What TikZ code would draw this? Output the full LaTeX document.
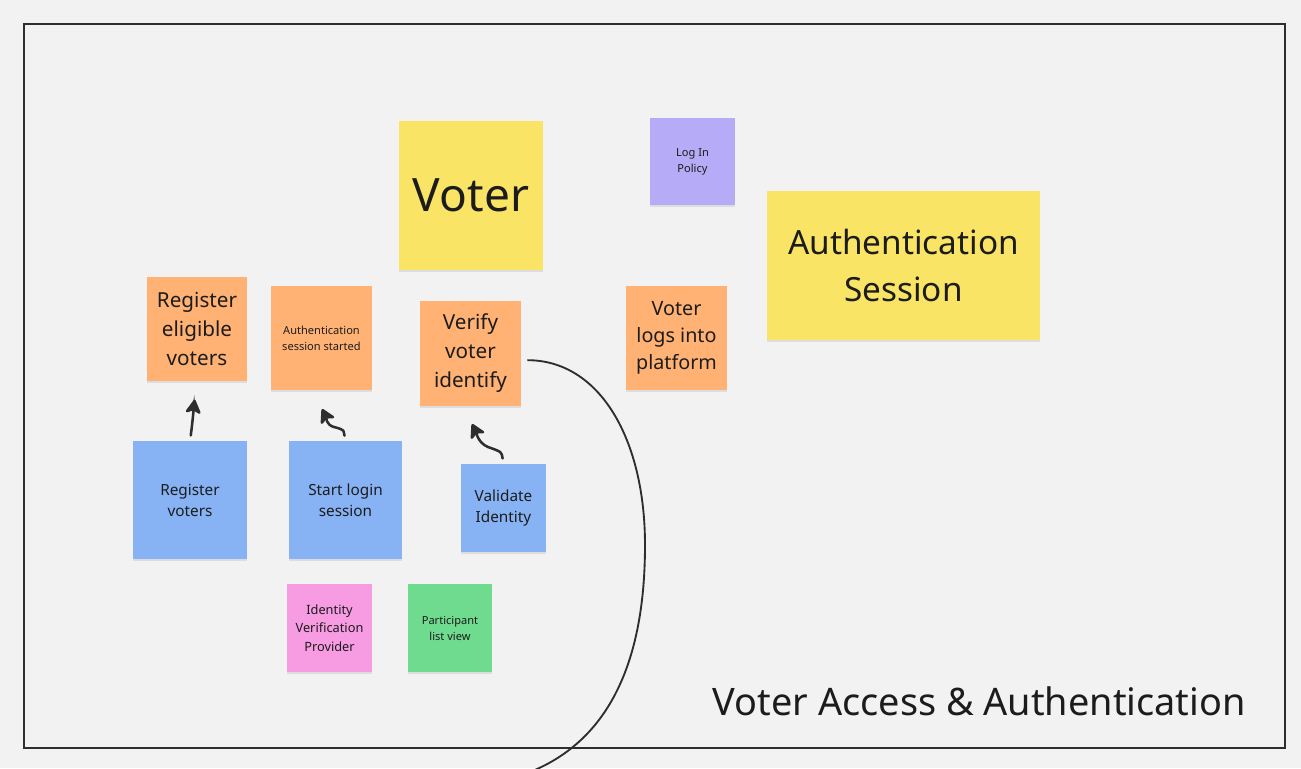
\documentclass[tikz,border=0pt]{standalone}
\usepackage{fontspec}
\setmainfont{Noto Sans}
\usetikzlibrary{arrows.meta,shadows}

\definecolor{board}{HTML}{F2F2F2}
\definecolor{ink}{HTML}{1C1C1C}
\definecolor{pen}{HTML}{2E2E2E}
\definecolor{yellownote}{HTML}{FAE466}
\definecolor{orangenote}{HTML}{FFB273}
\definecolor{bluenote}{HTML}{87B3F5}
\definecolor{purplenote}{HTML}{B5ABF7}
\definecolor{pinknote}{HTML}{F79BE3}
\definecolor{greennote}{HTML}{6FDB8E}

\begin{document}
\begin{tikzpicture}[x=0.75pt,y=-0.75pt,
  note/.style={inner sep=0pt, align=center, text=ink,
    drop shadow={shadow xshift=0pt, shadow yshift=-1.5pt, opacity=0.18}},
  size/.style 2 args={minimum width=#1*0.75pt, minimum height=#2*0.75pt},
  bigtxt/.style={font=\fontsize{15.5}{21.75}\selectfont},
  midtxt/.style={font=\fontsize{11.5}{15.75}\selectfont},
  smalltxt/.style={font=\fontsize{8.3}{12}\selectfont},
  link/.style={draw=pen, line width=1.9pt, line cap=round,
    -{Stealth[length=12pt,width=13.5pt,inset=3pt,round]}},
  curve/.style={draw=pen, line width=1.4pt}]

\fill[board] (0,0) rectangle (1301,768);
\useasboundingbox (0,0) rectangle (1301,768);
\clip (0,0) rectangle (1301,768);
\draw[pen, line width=1.5pt] (24,24) rectangle (1285,748);

% headers
\node[note, fill=yellownote, size={144}{149}, font=\fontsize{34.5}{40}\selectfont] (voter) at (471,195.5) {Voter};
\node[note, fill=yellownote, size={273}{149}, font=\fontsize{25}{35}\selectfont] (authsess) at (903.5,265.5) {Authentication\\Session};
\node[note, fill=purplenote, size={85}{87}, smalltxt] (policy) at (692.5,161.5) {Log In\\Policy};

% events
\node[note, fill=orangenote, size={100}{104}, bigtxt] (regel) at (197,329) {Register\\eligible\\voters};
\node[note, fill=orangenote, size={101}{104}, smalltxt] (started) at (321.5,338) {Authentication\\session started};
\node[note, fill=orangenote, size={101}{105}, bigtxt] (verify) at (470.5,353.5) {Verify\\voter\\identify};
\node[note, fill=orangenote, size={101}{104}, font=\fontsize{14.8}{20.25}\selectfont] (logs) at (676.5,338) {Voter\\logs into\\platform};

% commands
\node[note, fill=bluenote, size={114}{118}, midtxt] (regv) at (190,500) {Register\\voters};
\node[note, fill=bluenote, size={113}{118}, midtxt] (startlogin) at (345.5,500) {Start login\\session};
\node[note, fill=bluenote, size={85}{88}, midtxt] (validate) at (503.5,508) {Validate\\Identity};

% others
\node[note, fill=pinknote, size={85}{88}, font=\fontsize{9.6}{14}\selectfont] (idp) at (329.5,628) {Identity\\Verification\\Provider};
\node[note, fill=greennote, size={84}{88}, smalltxt] (plist) at (450,628) {Participant\\list view};

\node[inner sep=0pt, anchor=base east, text=ink, font=\fontsize{28.4}{34}\selectfont] (title) at (1246,715) {Voter Access \& Authentication};

% arrows
\draw[link, shorten <=4pt, shorten >=14pt] (regv.north) .. controls +(2,-14) and +(-2,16) .. (regel.south);
\draw[link, shorten <=4pt] ([xshift=0.4pt]startlogin.north) .. controls +(-3,-10) and +(12,3) .. (334,427) .. controls +(-8,-2) and +(4,8) .. (322,409);
\draw[link, shorten <=4pt] (validate.north) .. controls +(-2,-12) and +(14,5) .. (488,447) .. controls +(-10,-4) and +(4,8) .. (472,424);

\coordinate (offpage) at (530,772);
\draw[curve] ([xshift=4.5pt,yshift=-5pt]verify.east) .. controls +(73,0) and (645,440) .. (645,545) .. controls (645,660) and (610,740) .. (offpage);
\end{tikzpicture}
\end{document}
